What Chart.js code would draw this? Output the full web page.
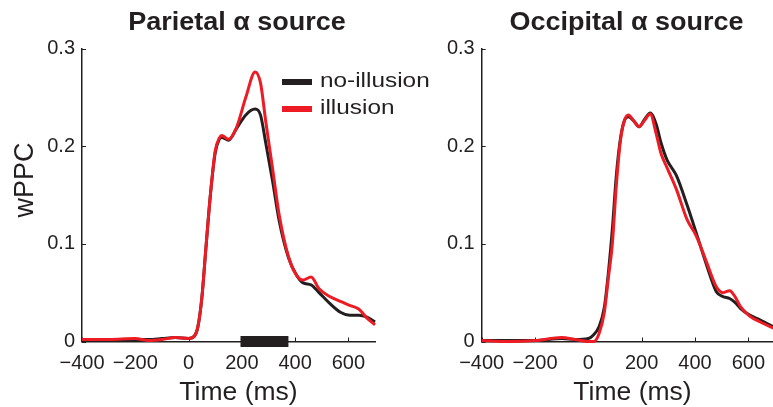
<!DOCTYPE html>
<html>
<head>
<meta charset="utf-8">
<script src="https://cdn.jsdelivr.net/npm/chart.js@4.4.1/dist/chart.umd.min.js"></script>
<style>
  html, body { margin: 0; padding: 0; background: #fff; overflow: hidden; }
  #wrap { position: relative; width: 773px; height: 407px; overflow: hidden; }
  #left { position: absolute; left: 0; top: 0; }
  #right { position: absolute; left: 400px; top: 0; }
</style>
</head>
<body>
<div id="wrap">
  <canvas id="left" width="440" height="407" style="width:440px;height:407px"></canvas>
  <canvas id="right" width="375" height="407" style="width:375px;height:407px"></canvas>
</div>
<script>
// tick values
const xTicks = [-400, -200, 0, 200, 400, 600];
const yTicks = [0, 0.1, 0.2, 0.3];

const seriesNames = ['no-illusion', 'illusion'];
const seriesColors = ['#231f20', '#ed1c24'];

// significant window under the parietal plot (ms)
const sigWindow = [195, 375];

// parietal alpha source
const parietalTime = [-400, -300, -200, -150, -100, -50, 0, 20, 35, 50, 65, 82, 100, 115, 125, 150, 180, 215, 250, 270, 290, 315, 340, 375, 405, 430, 460, 490, 530, 570, 605, 640, 670, 700];
const parietalNoIllusion = [0.002, 0.002, 0.002, 0.002, 0.003, 0.004, 0.003, 0.005, 0.015, 0.045, 0.095, 0.15, 0.193, 0.207, 0.209, 0.206, 0.218, 0.232, 0.238, 0.232, 0.203, 0.165, 0.124, 0.086, 0.068, 0.060, 0.058, 0.050, 0.039, 0.030, 0.027, 0.027, 0.025, 0.020];
const parietalIllusion = [0.002, 0.002, 0.003, 0.001, 0.002, 0.004, 0.003, 0.005, 0.015, 0.045, 0.095, 0.15, 0.195, 0.208, 0.211, 0.207, 0.219, 0.250, 0.276, 0.265, 0.225, 0.178, 0.130, 0.087, 0.068, 0.063, 0.066, 0.054, 0.046, 0.041, 0.037, 0.033, 0.024, 0.017];

// occipital alpha source
const occipitalTime = [-400, -300, -200, -100, -50, 0, 20, 40, 60, 75, 90, 105, 120, 135, 150, 170, 190, 210, 232, 255, 272, 295, 330, 370, 405, 445, 480, 505, 530, 550, 570, 605, 645, 700];
const occipitalNoIllusion = [0.001, 0.001, 0.001, 0.003, 0.002, 0.003, 0.007, 0.015, 0.035, 0.070, 0.115, 0.170, 0.207, 0.226, 0.230, 0.226, 0.220, 0.227, 0.234, 0.222, 0.204, 0.186, 0.170, 0.140, 0.111, 0.077, 0.051, 0.046, 0.044, 0.040, 0.034, 0.027, 0.022, 0.014];
const occipitalIllusion = [0.001, 0.000, 0.001, 0.004, 0.002, 0.000, 0.000, 0.008, 0.030, 0.065, 0.100, 0.160, 0.205, 0.226, 0.232, 0.226, 0.220, 0.226, 0.233, 0.212, 0.193, 0.178, 0.156, 0.125, 0.108, 0.080, 0.056, 0.050, 0.052, 0.046, 0.036, 0.026, 0.020, 0.013];

const ink = '#231f20';
const fam = '"Liberation Sans", Arial, Helvetica, sans-serif';
Chart.defaults.font.family = fam;
Chart.defaults.color = ink;

const pts = (xs, ys) => xs.map((x, i) => ({ x: x, y: ys[i] }));

// small inward ticks, matlab style
const tickMarks = {
  id: 'tickMarks',
  beforeDatasetsDraw(chart) {
    const { ctx, scales: { x, y } } = chart;
    const y0 = y.getPixelForValue(0);
    const x0 = x.getPixelForValue(x.min);
    ctx.save();
    ctx.strokeStyle = ink;
    ctx.lineWidth = 1;
    xTicks.forEach(v => {
      const px = Math.round(x.getPixelForValue(v)) + 0.5;
      ctx.beginPath(); ctx.moveTo(px, y0); ctx.lineTo(px, y0 - 4); ctx.stroke();
    });
    yTicks.forEach(v => {
      const py = Math.round(y.getPixelForValue(v)) + 0.5;
      ctx.beginPath(); ctx.moveTo(x0, py); ctx.lineTo(x0 + 4, py); ctx.stroke();
    });
    ctx.restore();
  }
};

function drawText(ctx, txt, x, y, font, align, sx, rot) {
  ctx.save();
  ctx.translate(x, y);
  if (rot) ctx.rotate(rot);
  ctx.scale(sx || 1, 1);
  ctx.font = font;
  ctx.textAlign = align || 'center';
  ctx.textBaseline = 'alphabetic';
  ctx.fillText(txt, 0, 0);
  ctx.restore();
}

// titles, axis labels and legend
const panelText = {
  id: 'panelText',
  afterDraw(chart, args, o) {
    const ctx = chart.ctx;
    ctx.save();
    ctx.fillStyle = ink;
    drawText(ctx, o.title, o.titleX, 30, 'bold 25px ' + fam, 'center', 1.08);
    drawText(ctx, 'Time (ms)', o.xLabelX, 400, '26px ' + fam, 'center', 1.02);
    if (o.yLabel) drawText(ctx, o.yLabel, 33, 180, '27px ' + fam, 'center', 1, -Math.PI / 2);
    if (o.legend) {
      [0, 1].forEach(i => {
        const ds = chart.data.datasets[i];
        const ly = o.legendY + i * 27;
        ctx.fillStyle = ds.borderColor;
        ctx.fillRect(o.legendX, ly - 3, 30, 6);
        ctx.fillStyle = ink;
        drawText(ctx, ds.label, o.legendX + 38, ly + 5, '21px ' + fam, 'left', 1.16);
      });
    }
    ctx.restore();
  }
};

function makePanel(id, time, noIll, ill, axisWidth, padRight, textOpts, sig) {
  const datasets = [
    { label: seriesNames[0], data: pts(time, noIll), borderColor: seriesColors[0], order: 2 },
    { label: seriesNames[1], data: pts(time, ill), borderColor: seriesColors[1], order: 1 }
  ];
  if (sig) {
    datasets.push({
      label: 'sig', data: sig.map(v => ({ x: v, y: 0 })),
      borderColor: ink, borderWidth: 11, borderCapStyle: 'butt',
      cubicInterpolationMode: 'default', tension: 0, order: 0
    });
  }
  return new Chart(document.getElementById(id), {
    type: 'line',
    data: { datasets: datasets },
    options: {
      responsive: false,
      animation: false,
      layout: { padding: { top: 48.5, right: padRight, bottom: 0, left: 0 } },
      datasets: {
        line: { borderWidth: 3, pointRadius: 0, fill: false, clip: false, cubicInterpolationMode: 'monotone' }
      },
      plugins: {
        legend: { display: false },
        tooltip: { enabled: false },
        panelText: textOpts
      },
      scales: {
        x: {
          type: 'linear', min: -400, max: 700,
          afterBuildTicks: s => { s.ticks = xTicks.map(v => ({ value: v })); },
          afterFit: s => { s.height = 65.5; },
          grid: { display: false, drawTicks: false },
          border: { display: true, color: ink, width: 1.5 },
          ticks: {
            color: ink, font: { size: 20 }, padding: 10, maxRotation: 0, autoSkip: false,
            callback: v => String(v).replace('-', '\u2212')
          }
        },
        y: {
          min: 0, max: 0.3,
          afterBuildTicks: s => { s.ticks = yTicks.map(v => ({ value: v })); },
          afterFit: s => { s.width = axisWidth; },
          grid: { display: false, drawTicks: false },
          border: { display: true, color: ink, width: 1.5 },
          ticks: {
            color: ink, font: { size: 20 }, padding: 7,
            callback: v => (v === 0 ? '0' : v.toFixed(1))
          }
        }
      }
    },
    plugins: [tickMarks, panelText]
  });
}

makePanel('left', parietalTime, parietalNoIllusion, parietalIllusion, 82, 65,
  { title: 'Parietal \u03b1 source', titleX: 237, xLabelX: 238.5, yLabel: 'wPPC', legend: true, legendX: 282, legendY: 82 },
  sigWindow);

makePanel('right', occipitalTime, occipitalNoIllusion, occipitalIllusion, 81.7, 0,
  { title: 'Occipital \u03b1 source', titleX: 226.5, xLabelX: 232.5, legend: false });
</script>
</body>
</html>
